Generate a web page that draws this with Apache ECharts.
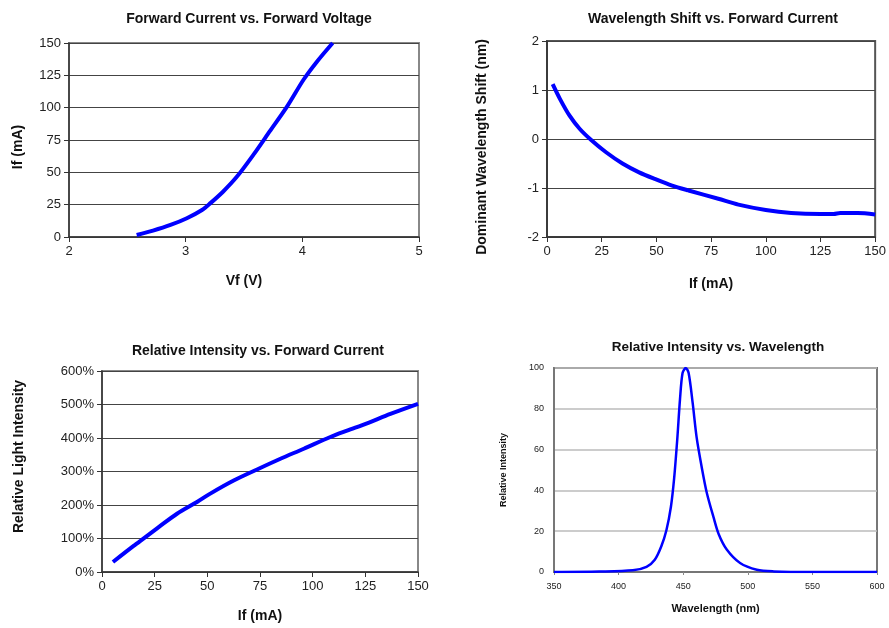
<!DOCTYPE html>
<html>
<head>
<meta charset="utf-8">
<script src="https://cdn.jsdelivr.net/npm/echarts@6/dist/echarts.min.js"></script>
<style>
  html, body { margin: 0; padding: 0; background: #fff; }
  #main { width: 889px; height: 628px; }
</style>
</head>
<body>
<div id="main"></div>
<script>
// Forward Current vs. Forward Voltage
var vfVolts = [2.58, 2.72, 2.87, 3.01, 3.14, 3.21, 3.32, 3.44, 3.58, 3.72, 3.87, 4.01, 4.12, 4.26];
var vfCurrent = [1.5, 4.9, 9.3, 14.5, 20.9, 26, 35, 46.7, 63.5, 81.6, 101, 121.6, 135, 150];

// Wavelength Shift vs. Forward Current
var shiftCurrent = [2.6, 5.9, 10.4, 14.9, 20.2, 27, 34.5, 42.1, 49.6, 57.2, 64.7, 78.3, 87.5, 100, 111.6, 125, 131, 134, 142, 150];
var shiftNm = [1.12, 0.82, 0.47, 0.21, -0.02, -0.27, -0.5, -0.68, -0.82, -0.95, -1.05, -1.22, -1.34, -1.45, -1.51, -1.53, -1.53, -1.51, -1.51, -1.54];

// Relative Intensity vs. Forward Current
var riCurrent = [5.2, 15, 20.6, 26.9, 35.6, 45.1, 51.4, 62.5, 73.6, 84.7, 95.8, 108.4, 116.3, 125.8, 136.9, 150];
var riPercent = [30, 78, 104, 134, 174, 209, 234, 273, 306, 338, 368, 403, 422, 444, 472, 502];

// Relative Intensity vs. Wavelength
var specNm = [350, 385, 411, 421.6, 428, 433, 437, 440.5, 443, 445.4, 447.5, 449.5, 452, 454.2, 457.3, 460.4, 464.3, 468.2, 473.4, 477.5, 483.7, 494, 507, 520, 550, 600];
var specInt = [0, 0.2, 0.8, 2.5, 6, 12.5, 20.5, 32, 46, 65, 84.5, 97.5, 100, 97.5, 83, 66, 51.5, 39, 27, 18.5, 11, 4.4, 1.1, 0.3, 0, 0];

function pairs(xs, ys) {
  return xs.map(function (x, i) { return [x, ys[i]]; });
}

var chart = echarts.init(document.getElementById('main'));

var font = 'Liberation Sans, Arial, sans-serif';
var titleStyle = { fontFamily: font, fontSize: 14, fontWeight: 'bold', color: '#111' };
var darkSplit = { show: true, lineStyle: { color: '#444', width: 1 } };
var axisBlack = { show: true, onZero: false, lineStyle: { color: '#333', width: 1.5 } };
var tickBlack = { show: true, length: 5, lineStyle: { color: '#333' } };
var labelStyle = { fontFamily: font, fontSize: 13, color: '#222' };
function nameStyle(pad) {
  return { fontFamily: font, fontSize: 14, fontWeight: 'bold', color: '#111', padding: pad || 0 };
}
var blue = '#0000ff';

chart.setOption({
  animation: false,
  title: [
    { text: 'Forward Current vs. Forward Voltage', left: 244, top: 7, textAlign: 'center', textStyle: titleStyle },
    { text: 'Wavelength Shift vs. Forward Current', left: 708, top: 7, textAlign: 'center', textStyle: titleStyle },
    { text: 'Relative Intensity vs. Forward Current', left: 253, top: 339, textAlign: 'center', textStyle: titleStyle },
    { text: 'Relative Intensity vs. Wavelength', left: 713, top: 335,
      textAlign: 'center', textStyle: { fontFamily: font, fontSize: 13.5, fontWeight: 'bold', color: '#111' } }
  ],
  grid: [
    { left: 69, top: 43, width: 350, height: 194, show: true, borderColor: '#888', borderWidth: 2 },
    { left: 547, top: 41, width: 331, height: 196, show: true, borderColor: '#555', borderWidth: 2 },
    { left: 102, top: 371, width: 316, height: 201, show: true, borderColor: '#888', borderWidth: 2 },
    { left: 554, top: 368, width: 323, height: 204, show: true, borderColor: '#777', borderWidth: 2 }
  ],
  xAxis: [
    {
      gridIndex: 0, type: 'value', min: 2, max: 5, interval: 1,
      name: 'Vf (V)', nameLocation: 'middle', nameGap: 37, nameTextStyle: nameStyle(),
      axisLine: axisBlack, axisTick: tickBlack, axisLabel: labelStyle, splitLine: { show: false }
    },
    {
      gridIndex: 1, type: 'value', min: 0, max: 150, interval: 25,
      name: 'If (mA)', nameLocation: 'middle', nameGap: 40, nameTextStyle: nameStyle(),
      axisLine: axisBlack, axisTick: tickBlack, axisLabel: labelStyle, splitLine: { show: false }
    },
    {
      gridIndex: 2, type: 'value', min: 0, max: 150, interval: 25,
      name: 'If (mA)', nameLocation: 'middle', nameGap: 37, nameTextStyle: nameStyle(),
      axisLine: axisBlack, axisTick: tickBlack, axisLabel: labelStyle, splitLine: { show: false }
    },
    {
      gridIndex: 3, type: 'value', min: 350, max: 600, interval: 50,
      name: 'Wavelength (nm)', nameLocation: 'middle', nameGap: 31,
      nameTextStyle: { fontFamily: font, fontSize: 11, fontWeight: 'bold', color: '#111' },
      axisLine: { show: true, onZero: false, lineStyle: { color: '#666', width: 1.5 } },
      axisTick: { show: true, length: 3, lineStyle: { color: '#888' } },
      axisLabel: { fontFamily: font, fontSize: 9, color: '#222', margin: 10 }, splitLine: { show: false }
    }
  ],
  yAxis: [
    {
      gridIndex: 0, type: 'value', min: 0, max: 150, interval: 25,
      name: 'If (mA)', nameLocation: 'middle', nameGap: 44, nameTextStyle: nameStyle([0, 14, 0, 0]),
      axisLine: axisBlack, axisTick: tickBlack, axisLabel: labelStyle, splitLine: darkSplit
    },
    {
      gridIndex: 1, type: 'value', min: -2, max: 2, interval: 1,
      name: 'Dominant Wavelength Shift (nm)', nameLocation: 'middle', nameGap: 58,
      nameTextStyle: nameStyle([0, 16, 0, 0]),
      axisLine: axisBlack, axisTick: tickBlack, axisLabel: labelStyle, splitLine: darkSplit
    },
    {
      gridIndex: 2, type: 'value', min: 0, max: 600, interval: 100,
      name: 'Relative Light Intensity', nameLocation: 'middle', nameGap: 76,
      nameTextStyle: nameStyle([0, 0, 0, 30]),
      axisLine: axisBlack, axisTick: tickBlack,
      axisLabel: { fontFamily: font, fontSize: 13, color: '#222', formatter: '{value}%' }, splitLine: darkSplit
    },
    {
      gridIndex: 3, type: 'value', min: 0, max: 100, interval: 20,
      name: 'Relative Intensity', nameLocation: 'middle', nameGap: 46,
      nameTextStyle: { fontFamily: font, fontSize: 9, fontWeight: 'bold', color: '#111' },
      axisLine: { show: true, onZero: false, lineStyle: { color: '#777', width: 2 } },
      axisTick: { show: false },
      axisLabel: { fontFamily: font, fontSize: 9, color: '#222', margin: 10 },
      splitLine: { show: true, lineStyle: { color: '#bbb', width: 1.5 } }
    }
  ],
  series: [
    {
      type: 'line', xAxisIndex: 0, yAxisIndex: 0, data: pairs(vfVolts, vfCurrent),
      smooth: 0.3, showSymbol: false, lineStyle: { color: blue, width: 4 }
    },
    {
      type: 'line', xAxisIndex: 1, yAxisIndex: 1, data: pairs(shiftCurrent, shiftNm),
      smooth: 0.3, showSymbol: false, lineStyle: { color: blue, width: 4 }
    },
    {
      type: 'line', xAxisIndex: 2, yAxisIndex: 2, data: pairs(riCurrent, riPercent),
      smooth: 0.3, showSymbol: false, lineStyle: { color: blue, width: 4 }
    },
    {
      type: 'line', xAxisIndex: 3, yAxisIndex: 3, data: pairs(specNm, specInt),
      smooth: 0.3, showSymbol: false, lineStyle: { color: blue, width: 2.5 }
    }
  ]
});
</script>
</body>
</html>
